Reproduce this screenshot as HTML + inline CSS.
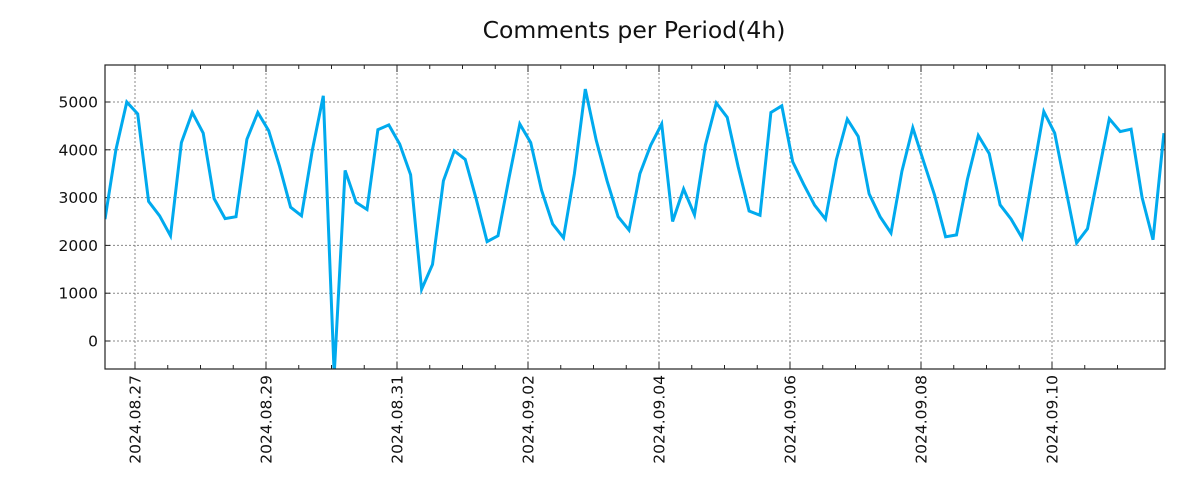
<!DOCTYPE html>
<html><head><meta charset="utf-8"><style>
body{margin:0;background:#fff}
svg{display:block;font-family:"DejaVu Sans","Liberation Sans",sans-serif}
</style></head><body>
<svg id="chart" width="1200" height="500" viewBox="0 0 1200 500" xmlns="http://www.w3.org/2000/svg">
<rect width="1200" height="500" fill="#fff"/>
<text x="634" y="38" text-anchor="middle" font-size="23.5" fill="#111">Comments per Period(4h)</text>
<defs><clipPath id="clip"><rect x="105" y="65" width="1060" height="304"/></clipPath></defs>
<g id="grid"></g>
<g id="axes"></g>
<g clip-path="url(#clip)"><path id="line" fill="none" stroke="#00aaee" stroke-width="3" stroke-linejoin="miter"/></g>
<rect x="105" y="65" width="1060" height="304" fill="none" stroke="#222" stroke-width="1.2"/>
</svg>
<script>
const startHour = -11; // hours relative to 2024-08-27 00:00
const stepHours = 4;
const values = [2550,4000,5000,4750,2920,2620,2200,4150,4780,4350,2980,2560,2600,4220,4780,4400,3650,2800,2620,4000,5130,-700,3570,2900,2750,4420,4520,4120,3480,1080,1600,3350,3980,3800,2980,2080,2200,3400,4540,4150,3150,2450,2160,3500,5270,4200,3350,2600,2320,3500,4100,4540,2500,3180,2640,4100,4980,4680,3650,2720,2630,4780,4920,3750,3280,2840,2550,3800,4640,4280,3080,2600,2260,3550,4460,3750,3050,2180,2220,3380,4300,3920,2850,2550,2160,3500,4800,4350,3200,2050,2350,3500,4650,4380,4430,3000,2120,4350];
const yTicks = [0,1000,2000,3000,4000,5000];
const xTickLabels = ["2024.08.27","2024.08.29","2024.08.31","2024.09.02","2024.09.04","2024.09.06","2024.09.08","2024.09.10"];
const xTickDays = [0,2,4,6,8,10,12,14];

const X = h => 135 + h * (65.5/24);
const Y = v => 341 - v * 0.0478;
const NS = "http://www.w3.org/2000/svg";
const grid = document.getElementById('grid'), axes = document.getElementById('axes');
function mk(tag, attrs, parent){const e=document.createElementNS(NS,tag);for(const k in attrs)e.setAttribute(k,attrs[k]);parent.appendChild(e);return e;}

yTicks.forEach(v=>{
  const y=Y(v);
  const g=mk('line',{x1:105,x2:1165,y1:y,y2:y,stroke:'#888','stroke-dasharray':'2,2','stroke-width':1},grid);
  
  
  mk('line',{x1:105,x2:110,y1:y,y2:y,stroke:'#222'},axes);
  mk('line',{x1:1160,x2:1165,y1:y,y2:y,stroke:'#222'},axes);
  const t=mk('text',{x:98,y:y+5.5,'text-anchor':'end','font-size':15.5,fill:'#111'},axes);
  t.textContent=v;
  
  
});
for(let h=-12;h<=15*24;h+=12){
  const x=X(h); if(x<105||x>1165)continue;
  mk('line',{x1:x,x2:x,y1:369,y2:365,stroke:'#222'},axes);
  mk('line',{x1:x,x2:x,y1:65,y2:69,stroke:'#222'},axes);
}
xTickDays.forEach((d,i)=>{
  const x=X(d*24);
  const g=mk('line',{x1:x,x2:x,y1:65,y2:369,stroke:'#888','stroke-dasharray':'2,2','stroke-width':1},grid);
  
  
  mk('line',{x1:x,x2:x,y1:369,y2:362,stroke:'#222'},axes);
  mk('line',{x1:x,x2:x,y1:65,y2:72,stroke:'#222'},axes);
  const t=mk('text',{x:0,y:0,'text-anchor':'end','font-size':15.5,fill:'#111',transform:`translate(${x+5.5},375) rotate(-90)`},axes);
  t.textContent=xTickLabels[i];
  
  
});
document.getElementById('line').setAttribute('d',values.map((v,i)=>(i?'L':'M')+X(startHour+i*stepHours).toFixed(1)+','+Y(v).toFixed(1)).join(''));
</script>
</body></html>
